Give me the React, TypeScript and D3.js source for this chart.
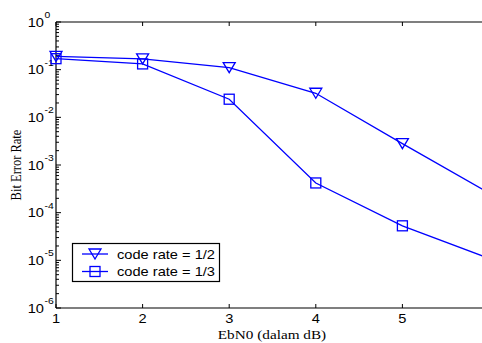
import React from "react";
import * as d3 from "d3";

// EbN0 values (dB) and simulated bit error rates
const ebn0 = [1, 2, 3, 4, 5, 6];
const berRateHalf = [0.19, 0.168, 0.11, 0.032, 0.0028, 0.00026];
const berRateThird = [0.17, 0.132, 0.024, 0.00042, 0.000053, 0.000011];
const xTicks = [1, 2, 3, 4, 5];
const yExponents = [0, -1, -2, -3, -4, -5, -6];
const legendLabels = ["code rate = 1/2", "code rate = 1/3"];

const W = 482;
const H = 343;
const BLUE = "#0000ff";
const SX = 1.22; // horizontal stretch of the rendered text
const SANS = "Arial, 'Liberation Sans', sans-serif";
const SERIF = "'Times New Roman', 'Liberation Serif', serif";

const x = d3.scaleLinear().domain([1, 6]).range([56, 489]);
const y = d3.scaleLog().domain([1e-6, 1]).range([308, 22]);

const line = d3
  .line<number>()
  .x((_, i) => x(ebn0[i]))
  .y((v) => y(v));

function Tri({ cx, cy }: { cx: number; cy: number }) {
  return (
    <path
      d={`M${cx - 6},${cy - 5}L${cx + 6},${cy - 5}L${cx},${cy + 5}Z`}
      fill="none"
      stroke={BLUE}
      strokeWidth={1.3}
    />
  );
}

function Sq({ cx, cy }: { cx: number; cy: number }) {
  return (
    <rect
      x={cx - 5}
      y={cy - 5}
      width={10}
      height={10}
      fill="none"
      stroke={BLUE}
      strokeWidth={1.3}
    />
  );
}

function SText({
  x0,
  y0,
  anchor,
  size,
  family,
  children,
}: {
  x0: number;
  y0: number;
  anchor: "start" | "middle" | "end";
  size: number;
  family: string;
  children: React.ReactNode;
}) {
  return (
    <text
      transform={`translate(${x0},${y0}) scale(${SX},1)`}
      textAnchor={anchor}
      fontSize={size}
      fontFamily={family}
      fill="#000"
    >
      {children}
    </text>
  );
}

export default function App() {
  const minorTicks: number[] = [];
  for (let e = -6; e < 0; e++) {
    for (let m = 2; m <= 9; m++) minorTicks.push(m * Math.pow(10, e));
  }
  const x0 = 56;
  const x1 = 489;
  const y0 = 308;
  const y1 = 22;

  return (
    <svg
      width={W}
      height={H}
      style={{ position: "fixed", left: 0, top: 0, background: "#fff" }}
    >
      <rect width={W} height={H} fill="#fff" />
      {/* axes frame */}
      <g stroke="#000" strokeWidth={1.2} fill="none">
        <line x1={x0} y1={y1} x2={x1} y2={y1} />
        <line x1={x0} y1={y0} x2={x1} y2={y0} />
        <line x1={x0} y1={y1} x2={x0} y2={y0} />
        <line x1={x1} y1={y1} x2={x1} y2={y0} />
      </g>
      {/* ticks */}
      <g stroke="#000" strokeWidth={1}>
        {xTicks.map((t) => (
          <g key={t}>
            <line x1={x(t)} y1={y0} x2={x(t)} y2={y0 - 4} />
            <line x1={x(t)} y1={y1} x2={x(t)} y2={y1 + 4} />
          </g>
        ))}
        {yExponents.map((e) => (
          <line key={e} x1={x0} y1={y(Math.pow(10, e))} x2={x0 + 5} y2={y(Math.pow(10, e))} />
        ))}
        {minorTicks.map((v, i) => (
          <line key={i} x1={x0} y1={y(v)} x2={x0 + 3} y2={y(v)} />
        ))}
      </g>
      {/* tick labels */}
      {xTicks.map((t) => (
        <SText key={t} x0={x(t)} y0={y0 + 15} anchor="middle" size={12} family={SANS}>
          {t}
        </SText>
      ))}
      {yExponents.map((e) => {
        const ty = y(Math.pow(10, e));
        return (
          <g key={e}>
            <SText x0={44} y0={ty + 4.5} anchor="end" size={12} family={SANS}>
              10
            </SText>
            <SText x0={44.5} y0={ty - 4} anchor="start" size={8.5} family={SANS}>
              {e === 0 ? "0" : `-${-e}`}
            </SText>
          </g>
        );
      })}
      {/* axis titles */}
      <SText x0={272} y0={339} anchor="middle" size={12.5} family={SERIF}>
        EbN0 (dalam dB)
      </SText>
      <text
        transform={`translate(21,165) rotate(-90) scale(1,${SX})`}
        textAnchor="middle"
        fontSize={12.5}
        fontFamily={SERIF}
      >
        Bit Error Rate
      </text>
      {/* series */}
      <path d={line(berRateHalf) ?? ""} fill="none" stroke={BLUE} strokeWidth={1.3} />
      <path d={line(berRateThird) ?? ""} fill="none" stroke={BLUE} strokeWidth={1.3} />
      {berRateHalf.map((v, i) => (
        <Tri key={`t${i}`} cx={x(ebn0[i])} cy={y(v)} />
      ))}
      {berRateThird.map((v, i) => (
        <Sq key={`s${i}`} cx={x(ebn0[i])} cy={y(v)} />
      ))}
      {/* legend */}
      <rect x={72.5} y={243.5} width={147} height={38} fill="#fff" stroke="#000" strokeWidth={1.2} />
      <line x1={82} y1={254} x2={108} y2={254} stroke={BLUE} strokeWidth={1.3} />
      <Tri cx={95} cy={254} />
      <line x1={82} y1={271.5} x2={108} y2={271.5} stroke={BLUE} strokeWidth={1.3} />
      <Sq cx={95} cy={271.5} />
      <SText x0={117} y0={258.5} anchor="start" size={12} family={SANS}>
        {legendLabels[0]}
      </SText>
      <SText x0={117} y0={276} anchor="start" size={12} family={SANS}>
        {legendLabels[1]}
      </SText>
    </svg>
  );
}
